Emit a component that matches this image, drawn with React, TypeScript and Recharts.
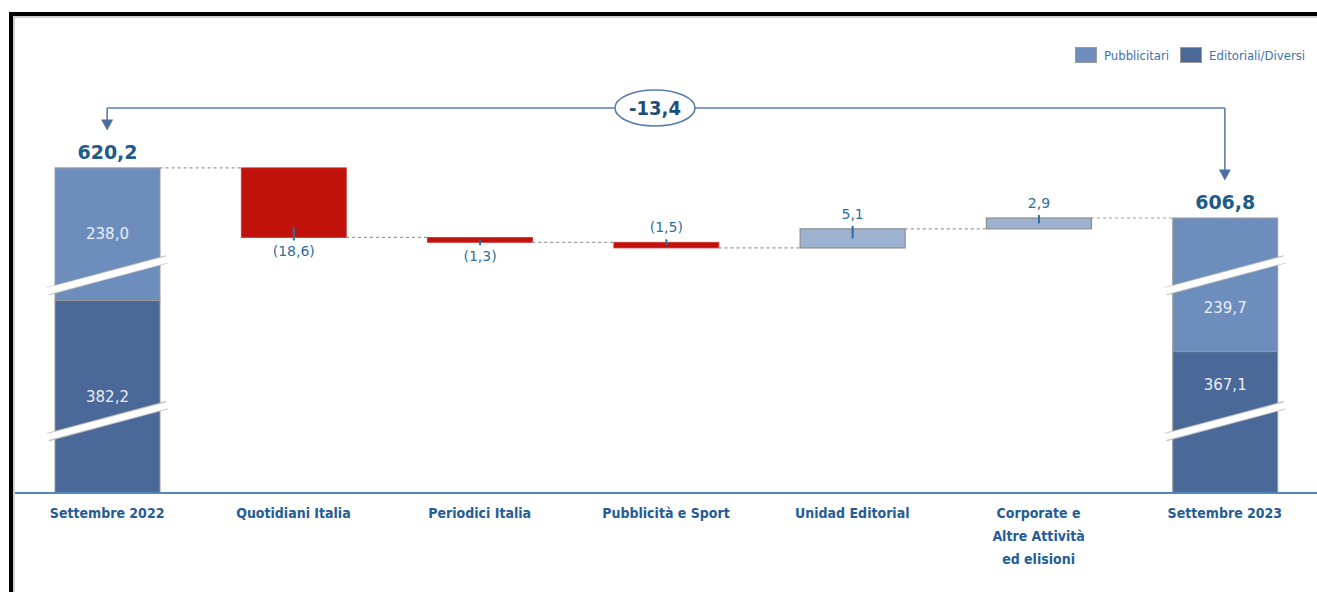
import { BarChart, Bar, XAxis, YAxis, Legend, ReferenceLine } from "recharts";

const categories = [
    "Settembre 2022",
    "Quotidiani Italia",
    "Periodici Italia",
    "Pubblicità e Sport",
    "Unidad Editorial",
    "Corporate e\nAltre Attività\ned elisioni",
    "Settembre 2023",
];

// opening / closing split (Settembre 2022, Settembre 2023)
const pubblicitari = [238.0, 239.7];
const editoriali = [382.2, 367.1];

// change by business area
const deltas = [-18.6, -1.3, -1.5, 5.1, 2.9];

// which side of the bar each change label sits on
const DELTA_LABEL_SIDE = ["below", "below", "above", "above", "above"];

const LEGEND_ORDER = ["Pubblicitari", "Editoriali/Diversi"];

const C_PUBB = "#6d8ebd";
const C_EDIT = "#4a6898";
const C_NEG = "#c0120a";
const C_POS = "#9db1d1";
const C_LABEL = "#2d6ea3";
const C_TOTAL = "#1e5a8a";
const C_AXIS_TEXT = "#255c95";
const FONT = "'DejaVu Sans', sans-serif";
const FONT_COND = "'DejaVu Sans Condensed', 'Liberation Sans Narrow', sans-serif";

const BAR_W = 105;
// broken axis: visible window and compression of the opening/closing bars
const Y_MIN = 533.3;
const Y_MAX = 637.8;
const COMPRESS = 0.149;
const BREAK_HIGH = 591.5;
const BREAK_LOW = 552.5;
const ARROW_GAP = 10;

const fmt = (v: number) => Math.abs(v).toFixed(1).replace(".", ",");

const totals = pubblicitari.map((p, i) => Math.round((p + editoriali[i]) * 10) / 10);

const endRow = (cat: string, i: number) => {
    const total = totals[i];
    const split = total - pubblicitari[i] * COMPRESS;
    return {
        cat,
        total,
        pubb: pubblicitari[i],
        edit: editoriali[i],
        pubbRange: [split, total],
        editRange: [Y_MIN, split],
    };
};

const levels: number[] = [totals[0]];
deltas.forEach((d) => levels.push(Math.round((levels[levels.length - 1] + d) * 10) / 10));

const data = [
    endRow(categories[0], 0),
    ...deltas.map((d, i) => ({
        cat: categories[i + 1],
        delta: d,
        side: DELTA_LABEL_SIDE[i],
        deltaRange: [levels[i], levels[i + 1]],
    })),
    endRow(categories[6], 1),
];

const bracketY = Math.max(...totals) + 16;
const change = Math.round((totals[1] - totals[0]) * 10) / 10;

const Break = ({ x, w, yc }: { x: number; w: number; yc: number }) => (
    <g>
        <line x1={x - 7} y1={yc + 16} x2={x + w + 7} y2={yc - 16} stroke="#bdbdbd" strokeWidth={8.5} />
        <line x1={x - 8} y1={yc + 16} x2={x + w + 8} y2={yc - 16} stroke="#ffffff" strokeWidth={6.5} />
    </g>
);

const InnerLabel = ({ x, y, text }: { x: number; y: number; text: string }) => (
    <text x={x} y={y} textAnchor="middle" dominantBaseline="central" fill="#e9eef5" fontSize={15} fontFamily={FONT}>
        {text}
    </text>
);

// keep the value label clear of the break band
const labelY = (centre: number, yBreak: number, dir: number) =>
    Math.abs(centre - yBreak) < 24 ? yBreak + dir * 33 : centre;

const PubbShape = (props: any) => {
    const { x, y, width, height, payload } = props;
    if (!payload || !payload.pubbRange) return null;
    const top = Math.min(y, y + height);
    const h = Math.abs(height);
    const ppu = h / (payload.pubbRange[1] - payload.pubbRange[0]);
    const yBreak = top + (payload.total - BREAK_HIGH) * ppu;
    return (
        <g>
            <rect x={x} y={top} width={width} height={h} fill={C_PUBB} stroke="#9a9a9a" strokeWidth={1} />
            <Break x={x} w={width} yc={yBreak} />
            <InnerLabel x={x + width / 2} y={labelY(top + h / 2, yBreak, 1)} text={fmt(payload.pubb)} />
            <text x={x + width / 2} y={top - 16} textAnchor="middle" dominantBaseline="central" fill={C_TOTAL} fontSize={19} fontWeight="bold" fontFamily={FONT}>
                {fmt(payload.total)}
            </text>
        </g>
    );
};

const EditShape = (props: any) => {
    const { x, y, width, height, payload } = props;
    if (!payload || !payload.editRange) return null;
    const top = Math.min(y, y + height);
    const h = Math.abs(height);
    const ppu = h / (payload.editRange[1] - payload.editRange[0]);
    const yBreak = top + (payload.editRange[1] - BREAK_LOW) * ppu;
    return (
        <g>
            <rect x={x} y={top} width={width} height={h} fill={C_EDIT} stroke="#9a9a9a" strokeWidth={1} />
            <Break x={x} w={width} yc={yBreak} />
            <InnerLabel x={x + width / 2} y={labelY(top + h / 2, yBreak, -1.1)} text={fmt(payload.edit)} />
        </g>
    );
};

const DeltaShape = (props: any) => {
    const { x, y, width, height, payload } = props;
    if (!payload || !payload.deltaRange) return null;
    const top = Math.min(y, y + height);
    const h = Math.max(Math.abs(height), 1);
    const bottom = top + h;
    const neg = payload.delta < 0;
    const cx = x + width / 2;
    const below = payload.side === "below";
    const label = neg ? `(${fmt(payload.delta)})` : fmt(payload.delta);
    return (
        <g>
            <rect x={x} y={top} width={width} height={h} fill={neg ? C_NEG : C_POS} stroke={neg ? "#d0302a" : "#8d8d8d"} strokeWidth={neg ? 0.8 : 1.2} />
            {below ? (
                <line x1={cx} x2={cx} y1={Math.max(top + h / 2, bottom - 10)} y2={bottom + 3} stroke={C_LABEL} strokeWidth={2} />
            ) : (
                <line x1={cx} x2={cx} y1={top - 3} y2={Math.min(top + h / 2, top + 10)} stroke={C_LABEL} strokeWidth={2} />
            )}
            <text x={cx} y={below ? bottom + 14 : top - 15} textAnchor="middle" dominantBaseline="central" fill={C_LABEL} fontSize={14} fontFamily={FONT}>
                {label}
            </text>
        </g>
    );
};

const AxisTick = (props: any) => {
    const { x, y, payload } = props;
    const lines = String(payload.value).split("\n");
    return (
        <text x={x} y={y + 23} textAnchor="middle" fill={C_AXIS_TEXT} fontSize={14} fontWeight="bold" fontFamily={FONT_COND}>
            {lines.map((l, i) => (
                <tspan key={i} x={x} dy={i === 0 ? 0 : 23}>
                    {l}
                </tspan>
            ))}
        </text>
    );
};

const Connector = (props: any) => {
    const { x1, x2, y1 } = props;
    if (x1 == null) return null;
    return (
        <line x1={x1 + BAR_W / 2} x2={x2 - BAR_W / 2} y1={y1} y2={y1} stroke="#9a9a9a" strokeWidth={1.2} strokeDasharray="3 3" />
    );
};

const BracketTop = (props: any) => {
    const { x1, x2, y1 } = props;
    if (x1 == null) return null;
    const mx = (x1 + x2) / 2 - 11;
    return (
        <g>
            <line x1={x1} x2={x2} y1={y1} y2={y1} stroke="#5b7db0" strokeWidth={1.6} />
            <ellipse cx={mx} cy={y1} rx={40} ry={18} fill="#ffffff" stroke="#5b7db0" strokeWidth={1.6} />
            <text x={mx} y={y1} textAnchor="middle" dominantBaseline="central" fill="#1f4e79" fontSize={20} fontWeight="bold" fontFamily={FONT_COND}>
                {(change < 0 ? "-" : "+") + fmt(change)}
            </text>
        </g>
    );
};

const BracketLeg = (props: any) => {
    const { x1, y1, y2 } = props;
    if (x1 == null) return null;
    return (
        <g>
            <line x1={x1} x2={x1} y1={y1} y2={y2 - 8} stroke="#5b7db0" strokeWidth={1.6} />
            <path d={`M${x1 - 6},${y2 - 11} L${x1 + 6},${y2 - 11} L${x1},${y2} Z`} fill="#4d6ea3" />
        </g>
    );
};

const renderLegend = (props: any) => {
    const items = (props.payload || [])
        .filter((p: any) => LEGEND_ORDER.includes(p.value))
        .sort((a: any, b: any) => LEGEND_ORDER.indexOf(a.value) - LEGEND_ORDER.indexOf(b.value));
    return (
        <div style={{ display: "flex", alignItems: "center", fontFamily: FONT_COND, fontSize: 13 }}>
            {items.map((p: any) => (
                <div key={p.value} style={{ display: "flex", alignItems: "center", marginRight: 11 }}>
                    <span style={{ width: 20, height: 14, background: p.color, border: "1px solid #9a9a9a", marginRight: 7 }} />
                    <span style={{ color: "#3d72b0" }}>{p.value}</span>
                </div>
            ))}
        </div>
    );
};

export default function App() {
    return (
        <div style={{ position: "absolute", left: 0, top: 0, width: 1317, height: 592, background: "#fff", overflow: "hidden" }}>
            <BarChart
                width={1318}
                height={592}
                data={data}
                margin={{ top: 102, right: 0, left: 14, bottom: 0 }}
                barGap={-BAR_W}
                barSize={BAR_W}
            >
                <XAxis
                    dataKey="cat"
                    interval={0}
                    height={99}
                    tickLine={false}
                    tickSize={0}
                    tick={<AxisTick />}
                    axisLine={{ stroke: "#4e86bf", strokeWidth: 2 }}
                />
                <YAxis hide domain={[Y_MIN, Y_MAX]} allowDataOverflow />
                <Legend
                    layout="horizontal"
                    verticalAlign="middle"
                    align="center"
                    content={renderLegend}
                    wrapperStyle={{ top: 47, left: 1075, width: 260 }}
                />
                <Bar dataKey="pubbRange" name="Pubblicitari" fill={C_PUBB} shape={<PubbShape />} isAnimationActive={false} />
                <Bar dataKey="editRange" name="Editoriali/Diversi" fill={C_EDIT} shape={<EditShape />} isAnimationActive={false} />
                <Bar dataKey="deltaRange" name="delta" legendType="none" shape={<DeltaShape />} isAnimationActive={false} />
                {levels.map((lv, i) => (
                    <ReferenceLine
                        key={`c-${i}`}
                        segment={[
                            { x: categories[i], y: lv },
                            { x: categories[i + 1], y: lv },
                        ]}
                        shape={<Connector />}
                    />
                ))}
                <ReferenceLine
                    segment={[
                        { x: categories[0], y: bracketY },
                        { x: categories[6], y: bracketY },
                    ]}
                    shape={<BracketTop />}
                />
                <ReferenceLine
                    segment={[
                        { x: categories[0], y: bracketY },
                        { x: categories[0], y: totals[0] + ARROW_GAP },
                    ]}
                    shape={<BracketLeg />}
                />
                <ReferenceLine
                    segment={[
                        { x: categories[6], y: bracketY },
                        { x: categories[6], y: totals[1] + ARROW_GAP },
                    ]}
                    shape={<BracketLeg />}
                />
            </BarChart>
            <div
                style={{
                    position: "absolute",
                    left: 9,
                    top: 12,
                    right: -4,
                    bottom: -4,
                    borderTop: "4px solid #000",
                    borderLeft: "4px solid #000",
                    boxShadow: "inset 2px 2px 0 #d0d0d0",
                    pointerEvents: "none",
                }}
            />
        </div>
    );
}
